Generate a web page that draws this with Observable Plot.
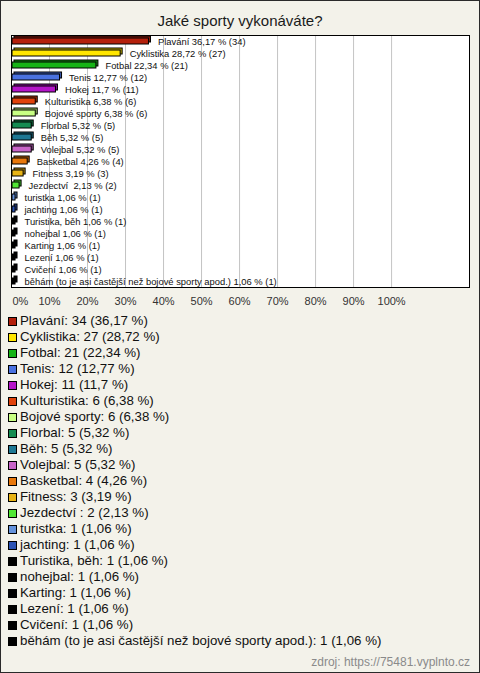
<!DOCTYPE html>
<html>
<head>
<meta charset="utf-8">
<script src="https://cdn.jsdelivr.net/npm/d3@7"></script>
<script src="https://cdn.jsdelivr.net/npm/@observablehq/plot@0.6"></script>
<style>
  html, body { margin: 0; padding: 0; background: #fff; }
  #wrap {
    position: relative; box-sizing: border-box; width: 480px; height: 673px;
    border: 1px solid #2a2a2a; background: #f3f2ea; overflow: hidden;
    font-family: "Liberation Sans", Arial, sans-serif;
  }
  #title { height: 29px; box-sizing: border-box; padding-top: 11px; text-align: center;
    font-size: 15px; line-height: 17px; color: #1a1a1a; }
  #chart svg { display: block; }
  #legend { margin-top: 3px; padding-left: 7px; }
  .li { height: 16px; line-height: 16px; font-size: 13.3px; color: #111; white-space: pre; display: flex; align-items: center; }
  .sw { width: 7px; height: 7px; border: 1px solid #000; margin-right: 3px; flex: none; }
  #src { margin-top: 6px; text-align: right; padding-right: 9px; font-size: 12px; line-height: 14px; color: #8a8a8a; }
</style>
</head>
<body>
<div id="wrap">
  <div id="title">Jaké sporty vykonáváte?</div>
  <div id="chart"></div>
  <div id="legend"></div>
  <div id="src">zdroj: https://75481.vyplnto.cz</div>
</div>
<script>
const names = ["Plavání", "Cyklistika", "Fotbal", "Tenis", "Hokej", "Kulturistika", "Bojové sporty",
  "Florbal", "Běh", "Volejbal", "Basketbal", "Fitness", "Jezdectví ", "turistka", "jachting",
  "Turistika, běh", "nohejbal", "Karting", "Lezení", "Cvičení",
  "běhám (to je asi častější než bojové sporty apod.)"];
const counts = [34, 27, 21, 12, 11, 6, 6, 5, 5, 5, 4, 3, 2, 1, 1, 1, 1, 1, 1, 1, 1];
const percents = [36.17, 28.72, 22.34, 12.77, 11.7, 6.38, 6.38, 5.32, 5.32, 5.32, 4.26, 3.19, 2.13,
  1.06, 1.06, 1.06, 1.06, 1.06, 1.06, 1.06, 1.06];
const colors = ["#b4200c", "#ffe600", "#16b416", "#4a72e0", "#b414c8", "#e0420c", "#c8ff84",
  "#148c52", "#1e7894", "#c864c8", "#e8780c", "#e8b416", "#50e634", "#6492dc", "#2a52b4",
  "#000000", "#000000", "#000000", "#000000", "#000000", "#000000"];
const xTicks = [0, 10, 20, 30, 40, 50, 60, 70, 80, 90, 100];

const fmt = v => String(v).replace(".", ",");
const rows = names.map((n, i) => ({
  name: n, count: counts[i], pct: percents[i], color: colors[i],
  back: d3.color(colors[i]).darker(0.8).formatHex(),
  label: `${n} ${fmt(percents[i])} % (${counts[i]})`
}));

const chart = Plot.plot({
  width: 478, height: 280,
  marginLeft: 10, marginRight: 10, marginTop: 5, marginBottom: 23,
  x: { domain: [0, 120.5], axis: null },
  y: { domain: names, axis: null, padding: 0 },
  style: { background: "transparent", fontFamily: "'Liberation Sans', Arial, sans-serif", overflow: "visible" },
  marks: [
    Plot.frame({ fill: "#fff", stroke: null }),
    Plot.ruleX(xTicks.filter(t => t > 0), { stroke: "#c4c4c4", strokeWidth: 1 }),
    Plot.rect(rows, { x1: 0, x2: "pct", y: "name", fill: "back", stroke: "#000", strokeWidth: 1,
      insetTop: 3, insetBottom: 3, insetLeft: 1, dx: 2, dy: -2 }),
    Plot.rect(rows, { x1: 0, x2: "pct", y: "name", fill: "color", stroke: "#000", strokeWidth: 1,
      insetTop: 3, insetBottom: 3, insetLeft: 1 }),
    Plot.text(rows, { x: "pct", y: "name", text: "label", textAnchor: "start", dx: 9, dy: 0,
      fontSize: 9.4, fill: "#111" }),
    Plot.frame({ stroke: "#000", strokeWidth: 1 }),
    Plot.text(xTicks.filter(t => t === 0), { x: d => d, frameAnchor: "bottom", text: d => d + "%",
      textAnchor: "start", dx: 1, dy: 17, fontSize: 11, fill: "#333" }),
    Plot.text(xTicks.filter(t => t > 0), { x: d => d, frameAnchor: "bottom", text: d => d + "%",
      textAnchor: "middle", dy: 17, fontSize: 11, fill: "#333" })
  ]
});
document.getElementById("chart").appendChild(chart);

const legend = document.getElementById("legend");
rows.forEach(r => {
  const li = document.createElement("div");
  li.className = "li";
  const sw = document.createElement("span");
  sw.className = "sw";
  sw.style.background = r.color;
  const t = document.createElement("span");
  t.textContent = `${r.name}: ${r.count} (${fmt(r.pct)} %)`;
  li.appendChild(sw);
  li.appendChild(t);
  legend.appendChild(li);
});
</script>
</body>
</html>
